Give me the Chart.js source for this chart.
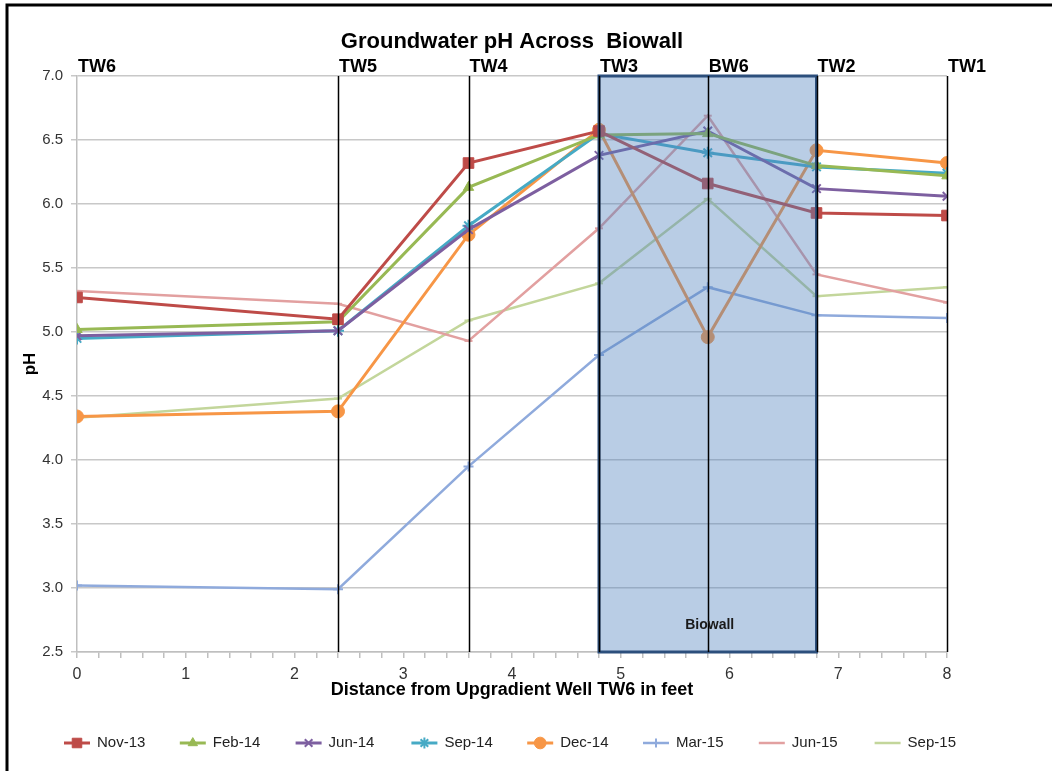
<!DOCTYPE html>
<html>
<head>
<meta charset="utf-8">
<title>Groundwater pH Across Biowall</title>
<script src="https://cdn.jsdelivr.net/npm/chart.js@4/dist/chart.umd.min.js"></script>
<style>
  html, body { margin: 0; padding: 0; background: #fff; }
  canvas { display: block; }
</style>
</head>
<body>
<canvas id="phChart" width="1052" height="771"></canvas>
<script>
// wells along the transect (feet from TW6)
const wellNames = ["TW6", "TW5", "TW4", "TW3", "BW6", "TW2", "TW1"];
const wellDistance = [0, 2.4, 3.6, 4.8, 5.8, 6.8, 8];

// sampling events
const events = ["Nov-13", "Feb-14", "Jun-14", "Sep-14", "Dec-14", "Mar-15", "Jun-15", "Sep-15"];

// pH at each well, TW6 -> TW1
const phNov13 = [5.27, 5.10, 6.32, 6.57, 6.16, 5.93, 5.91];
const phFeb14 = [5.02, 5.08, 6.13, 6.54, 6.55, 6.30, 6.22];
const phJun14 = [4.97, 5.01, 5.80, 6.38, 6.57, 6.12, 6.06];
const phSep14 = [4.95, 5.01, 5.83, 6.55, 6.40, 6.29, 6.24];
const phDec14 = [4.34, 4.38, 5.76, 6.58, 4.96, 6.42, 6.32];
const phMar15 = [3.02, 2.99, 3.95, 4.82, 5.35, 5.13, 5.11];
const phJun15 = [5.32, 5.22, 4.93, 5.81, 6.69, 5.45, 5.23];
const phSep15 = [4.33, 4.48, 5.09, 5.38, 6.04, 5.28, 5.35];

// biowall extent (TW3 to TW2)
const biowallFrom = 4.8;
const biowallTo = 6.8;

const seriesValues = [phNov13, phFeb14, phJun14, phSep14, phDec14, phMar15, phJun15, phSep15];
const seriesColors = ["#BE4B48", "#98B954", "#7D5FA0", "#46AAC5", "#F79646", "#8FAADC", "#E2A0A0", "#C3D69B"];
const seriesMarkers = ["rect", "triangle", "crossRot", "star", "circle", "cross", "line", "line"];
const seriesRadius = [7.5, 6, 6, 6, 6.5, 5, 4, 4];
const seriesWidth = [3, 3, 3, 3, 3, 2.5, 2.5, 2.5];

const plainFont = "'Liberation Sans', Arial, sans-serif";

const datasets = events.map((name, i) => ({
    label: name,
    data: wellDistance.map((d, j) => ({ x: d, y: seriesValues[i][j] })),
    borderColor: seriesColors[i],
    backgroundColor: seriesColors[i],
    borderWidth: seriesWidth[i],
    pointStyle: seriesMarkers[i],
    pointRadius: seriesRadius[i],
    pointBorderWidth: ["crossRot", "star", "cross", "line"].includes(seriesMarkers[i]) ? 2 : 1,
    tension: 0,
    fill: false
}));

// shaded biowall, well lines and well names
const wellPlugin = {
    id: "wells",
    afterDatasetsDraw(chart) {
        const { ctx, chartArea, scales: { x } } = chart;
        const x0 = x.getPixelForValue(biowallFrom);
        const x1 = x.getPixelForValue(biowallTo);
        ctx.save();
        ctx.fillStyle = "rgba(79,129,189,0.4)";
        ctx.fillRect(x0, chartArea.top, x1 - x0, chartArea.bottom - chartArea.top);
        ctx.strokeStyle = "#2C4F7C";
        ctx.lineWidth = 3;
        ctx.strokeRect(x0, chartArea.top, x1 - x0, chartArea.bottom - chartArea.top);

        ctx.strokeStyle = "#000";
        ctx.lineWidth = 1.5;
        wellDistance.forEach((d, i) => {
            if (i === 0) return;
            const px = Math.round(x.getPixelForValue(d)) + 0.5;
            ctx.beginPath();
            ctx.moveTo(px, chartArea.top);
            ctx.lineTo(px, chartArea.bottom);
            ctx.stroke();
        });

        ctx.fillStyle = "#1a1a1a";
        ctx.font = "bold 14px " + plainFont;
        ctx.textAlign = "center";
        ctx.textBaseline = "middle";
        ctx.fillText("Biowall", x.getPixelForValue(5.8) + 2, chartArea.bottom - 27);
        ctx.restore();
    },
    afterDraw(chart) {
        const { ctx, chartArea, scales: { x } } = chart;
        ctx.save();
        ctx.fillStyle = "#000";
        ctx.font = "bold 18px " + plainFont;
        ctx.textAlign = "left";
        ctx.textBaseline = "alphabetic";
        wellNames.forEach((n, i) => {
            ctx.fillText(n, x.getPixelForValue(wellDistance[i]) + 1, chartArea.top - 4);
        });

        // frame on the left and top
        ctx.strokeStyle = "#000";
        ctx.lineWidth = 3;
        ctx.beginPath();
        ctx.moveTo(7, chart.height);
        ctx.lineTo(7, 5);
        ctx.lineTo(chart.width, 5);
        ctx.stroke();
        ctx.restore();
    }
};

// legend with line + marker samples along the bottom
const lineLegend = {
    id: "lineLegend",
    afterDraw(chart) {
        const { ctx } = chart;
        const y = 743;
        ctx.save();
        ctx.font = "15px " + plainFont;
        ctx.textBaseline = "middle";
        ctx.textAlign = "left";
        chart.data.datasets.forEach((ds, i) => {
            const x = 64 + i * 115.8;
            ctx.strokeStyle = ds.borderColor;
            ctx.lineWidth = ds.borderWidth;
            ctx.beginPath();
            ctx.moveTo(x, y);
            ctx.lineTo(x + 26, y);
            ctx.stroke();
            if (ds.pointStyle !== "line") {
                ctx.fillStyle = ds.backgroundColor;
                ctx.strokeStyle = ds.borderColor;
                ctx.lineWidth = ds.pointBorderWidth;
                Chart.helpers.drawPoint(ctx, {
                    pointStyle: ds.pointStyle,
                    radius: ds.pointRadius * 0.9,
                    rotation: 0,
                    borderWidth: ds.pointBorderWidth
                }, x + 13, y);
            }
            ctx.fillStyle = "#222";
            ctx.fillText(ds.label, x + 33, y);
        });
        ctx.restore();
    }
};

new Chart(document.getElementById("phChart"), {
    type: "line",
    data: { datasets },
    plugins: [wellPlugin, lineLegend],
    options: {
        responsive: false,
        animation: false,
        layout: { padding: { left: 0, right: 105, top: 0, bottom: 69 } },
        plugins: {
            legend: { display: false },
            tooltip: { enabled: false },
            title: {
                display: true,
                fullSize: false,
                text: "Groundwater pH Across  Biowall",
                color: "#000",
                font: { family: plainFont, size: 22, weight: "bold", lineHeight: 1.2 },
                padding: { top: 29, bottom: 20.6 }
            }
        },
        scales: {
            x: {
                type: "linear",
                min: 0,
                max: 8,
                afterFit(scale) { scale.height = 50; },
                grid: { drawOnChartArea: false, color: "#BFBFBF", lineWidth: 1.5, tickLength: 6 },
                border: { color: "#BFBFBF", width: 1.5 },
                ticks: {
                    stepSize: 0.2,
                    autoSkip: false,
                    maxRotation: 0,
                    padding: 7,
                    color: "#333",
                    font: { family: plainFont, size: 16 },
                    callback: v => Math.abs(v - Math.round(v)) < 1e-6 ? String(Math.round(v)) : ""
                },
                title: {
                    display: true,
                    text: "Distance from Upgradient Well TW6 in feet",
                    color: "#000",
                    font: { family: plainFont, size: 18, weight: "bold", lineHeight: 1.2 },
                    padding: { top: 0, bottom: 1.5 }
                }
            },
            y: {
                min: 2.5,
                max: 7,
                afterFit(scale) { scale.width = 77; },
                grid: { color: "#C8C8C8", lineWidth: 1.5, tickLength: 6 },
                border: { color: "#BFBFBF", width: 1.5 },
                ticks: {
                    stepSize: 0.5,
                    padding: 8,
                    color: "#333",
                    font: { family: plainFont, size: 15 },
                    callback: v => v.toFixed(1)
                },
                title: {
                    display: true,
                    text: "pH",
                    color: "#000",
                    font: { family: plainFont, size: 17, weight: "bold", lineHeight: 1.2 },
                    padding: { top: 20, bottom: 0 }
                }
            }
        }
    }
});
</script>
</body>
</html>
